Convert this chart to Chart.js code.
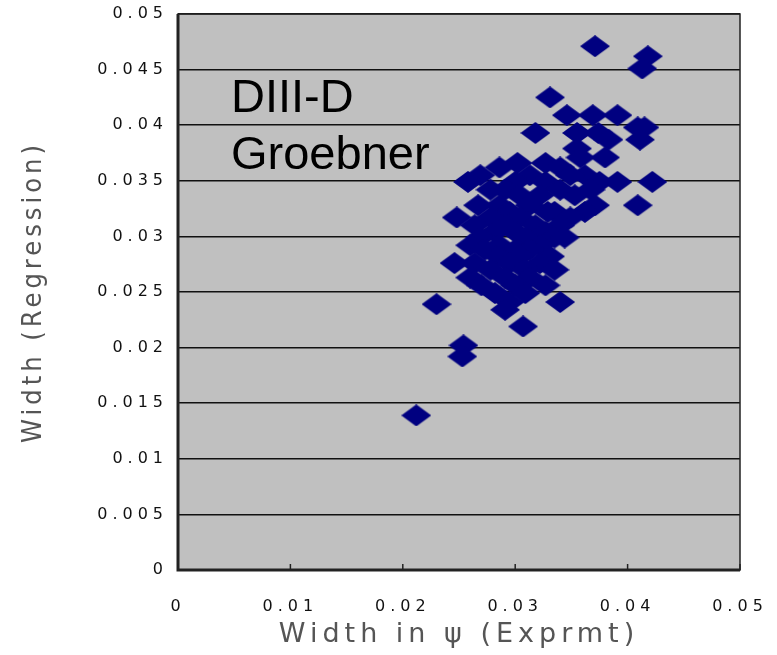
<!DOCTYPE html>
<html>
<head>
<meta charset="utf-8">
<script src="https://cdn.jsdelivr.net/npm/chart.js@4/dist/chart.umd.min.js"></script>
<style>
  html, body { margin: 0; padding: 0; background: #fff; }
  #wrap { width: 777px; height: 655px; }
</style>
</head>
<body>
<div id="wrap"><canvas id="chart" width="777" height="655"></canvas></div>
<script>
// measured pedestal widths (x) vs. regression fit (y)
const widthExp = [
  0.0371, 0.0418, 0.0413,
  0.0331,
  0.0346, 0.0369, 0.0391,
  0.0409, 0.0415,
  0.0318, 0.0355, 0.0374,
  0.0383, 0.0411,
  0.0355,
  0.0380, 0.0358,
  0.0302, 0.0327,
  0.0286, 0.0340,
  0.0269, 0.0313, 0.0362, 0.0349,
  0.0258, 0.0300, 0.0327, 0.0375, 0.0391, 0.0422,
  0.0278, 0.0291, 0.0340, 0.0367,
  0.0304, 0.0322, 0.0353,
  0.0267, 0.0286, 0.0313, 0.0371, 0.0409,
  0.0295, 0.0335, 0.0362, 0.0329,
  0.0248, 0.0278, 0.0304, 0.0349,
  0.0264, 0.0291, 0.0318, 0.0340,
  0.0282, 0.0300, 0.0327,
  0.0269, 0.0309, 0.0335, 0.0344,
  0.0260, 0.0286, 0.0322,
  0.0273, 0.0300, 0.0313,
  0.0285, 0.0304, 0.0331,
  0.0246, 0.0264, 0.0295, 0.0322,
  0.0278, 0.0309, 0.0335,
  0.0260, 0.0291, 0.0313,
  0.0270, 0.0300, 0.0327,
  0.0282, 0.0309,
  0.0295, 0.0340,
  0.0230,
  0.0291,
  0.0307,
  0.0254,
  0.0253,
  0.0212
];

const widthReg = [
  0.0471, 0.0462, 0.0451,
  0.0425,
  0.0409, 0.0409, 0.0409,
  0.0398, 0.0398,
  0.0393, 0.0393, 0.0393,
  0.0387, 0.0387,
  0.0379,
  0.0371, 0.0371,
  0.0366, 0.0366,
  0.0362, 0.0362,
  0.0355, 0.0355, 0.0355, 0.0355,
  0.0349, 0.0349, 0.0349, 0.0349, 0.0349, 0.0349,
  0.0342, 0.0342, 0.0342, 0.0342,
  0.0337, 0.0337, 0.0337,
  0.0328, 0.0328, 0.0328, 0.0328, 0.0328,
  0.0322, 0.0322, 0.0322, 0.0322,
  0.0317, 0.0317, 0.0317, 0.0317,
  0.0310, 0.0310, 0.0310, 0.0310,
  0.0304, 0.0304, 0.0304,
  0.0299, 0.0299, 0.0299, 0.0299,
  0.0292, 0.0292, 0.0292,
  0.0288, 0.0288, 0.0288,
  0.0282, 0.0282, 0.0282,
  0.0276, 0.0276, 0.0276, 0.0276,
  0.0270, 0.0270, 0.0270,
  0.0263, 0.0263, 0.0263,
  0.0256, 0.0256, 0.0256,
  0.0249, 0.0249,
  0.0241, 0.0241,
  0.0239,
  0.0234,
  0.0219,
  0.0202,
  0.0192,
  0.0139
];

const xTickLabels = ['0', '0.01', '0.02', '0.03', '0.04', '0.05'];
const yTickLabels = ['0', '0.005', '0.01', '0.015', '0.02', '0.025', '0.03', '0.035', '0.04', '0.045', '0.05'];
const noteLines = ['DIII-D', 'Groebner'];

const points = widthExp.map((x, i) => ({ x: x, y: widthReg[i] }));

// flat diamond marker, a bit wider than tall
function makeDiamond(w, h, color) {
  const c = document.createElement('canvas');
  c.width = w;
  c.height = h;
  const g = c.getContext('2d');
  g.fillStyle = color;
  g.beginPath();
  g.moveTo(w / 2, 0);
  g.lineTo(w, h / 2);
  g.lineTo(w / 2, h);
  g.lineTo(0, h / 2);
  g.closePath();
  g.fill();
  return c;
}
const diamond = makeDiamond(30, 22, '#000080');

// titles get their own letter spacing
function spaceTitle(scale, spacing) {
  if (scale._spacedTitle) return;
  const orig = scale.drawTitle;
  scale.drawTitle = function () {
    const ctx = this.ctx;
    const prev = ctx.letterSpacing;
    ctx.letterSpacing = spacing;
    orig.apply(this, arguments);
    ctx.letterSpacing = prev;
  };
  scale._spacedTitle = true;
}

// grey plot panel, frame, inward x ticks and the note text
const panelPlugin = {
  id: 'panel',
  afterLayout(chart) {
    spaceTitle(chart.scales.x, '5px');
    spaceTitle(chart.scales.y, '4px');
  },
  beforeDraw(chart) {
    const { ctx, chartArea: a } = chart;
    ctx.save();
    ctx.fillStyle = '#c0c0c0';
    ctx.fillRect(a.left, a.top, a.right - a.left, a.bottom - a.top);
    ctx.restore();
    ctx.letterSpacing = '5px';
  },
  afterDraw(chart) {
    const { ctx, chartArea: a } = chart;
    const xs = chart.scales.x;
    ctx.save();
    ctx.letterSpacing = '0px';
    ctx.strokeStyle = '#222';
    ctx.lineWidth = 1.5;
    ctx.strokeRect(a.left, a.top, a.right - a.left, a.bottom - a.top);
    ctx.lineWidth = 3;
    ctx.beginPath();
    ctx.moveTo(a.left, a.top);
    ctx.lineTo(a.left, a.bottom);
    ctx.lineTo(a.right, a.bottom);
    ctx.stroke();
    ctx.lineWidth = 1.5;
    xs.ticks.forEach(t => {
      const px = xs.getPixelForValue(t.value);
      ctx.beginPath();
      ctx.moveTo(px, a.bottom);
      ctx.lineTo(px, a.bottom - 6);
      ctx.stroke();
    });
    ctx.fillStyle = '#000';
    ctx.font = '47px "Liberation Sans", Arial, sans-serif';
    ctx.textBaseline = 'alphabetic';
    ctx.fillText(noteLines[0], 231, 112);
    ctx.fillText(noteLines[1], 231, 169);
    ctx.restore();
  }
};

new Chart(document.getElementById('chart'), {
  type: 'scatter',
  data: {
    datasets: [{
      data: points,
      pointStyle: diamond,
      backgroundColor: '#000080',
      borderColor: '#000080',
      pointRadius: 12,
      pointHoverRadius: 12
    }]
  },
  options: {
    responsive: false,
    animation: false,
    events: [],
    layout: { padding: { left: 0, top: 14, right: 37, bottom: 0 } },
    plugins: {
      legend: { display: false },
      tooltip: { enabled: false }
    },
    scales: {
      x: {
        type: 'linear',
        min: 0,
        max: 0.05,
        afterFit(scale) {
          scale.height = 85;
          scale.paddingLeft = 0;
          scale.paddingRight = 0;
        },
        afterBuildTicks(scale) {
          scale.ticks = xTickLabels.map(s => ({ value: parseFloat(s) }));
        },
        grid: { display: false },
        border: { display: false },
        ticks: {
          padding: 19,
          color: '#111',
          maxRotation: 0,
          font: { family: '"DejaVu Sans", sans-serif', size: 16 },
          callback: (v, i) => xTickLabels[i]
        },
        title: {
          display: true,
          text: 'Width in \u03c8 (Exprmt)',
          color: '#555',
          font: { family: '"DejaVu Sans", sans-serif', size: 27 },
          padding: { top: 0, bottom: 4 }
        }
      },
      y: {
        type: 'linear',
        min: 0,
        max: 0.05,
        afterFit(scale) {
          scale.width = 178;
          scale.paddingTop = 0;
          scale.paddingBottom = 0;
        },
        afterBuildTicks(scale) {
          scale.ticks = yTickLabels.map(s => ({ value: parseFloat(s) }));
        },
        grid: { color: '#111', lineWidth: 1.5, drawTicks: false },
        border: { display: false },
        ticks: {
          padding: 10,
          color: '#111',
          font: { family: '"DejaVu Sans", sans-serif', size: 16 },
          callback: (v, i) => yTickLabels[i]
        },
        title: {
          display: true,
          text: 'Width (Regression)',
          color: '#555',
          font: { family: '"DejaVu Sans Condensed", "DejaVu Sans", sans-serif', size: 27 },
          padding: { top: 18, bottom: 0 }
        }
      }
    }
  },
  plugins: [panelPlugin]
});
</script>
</body>
</html>
